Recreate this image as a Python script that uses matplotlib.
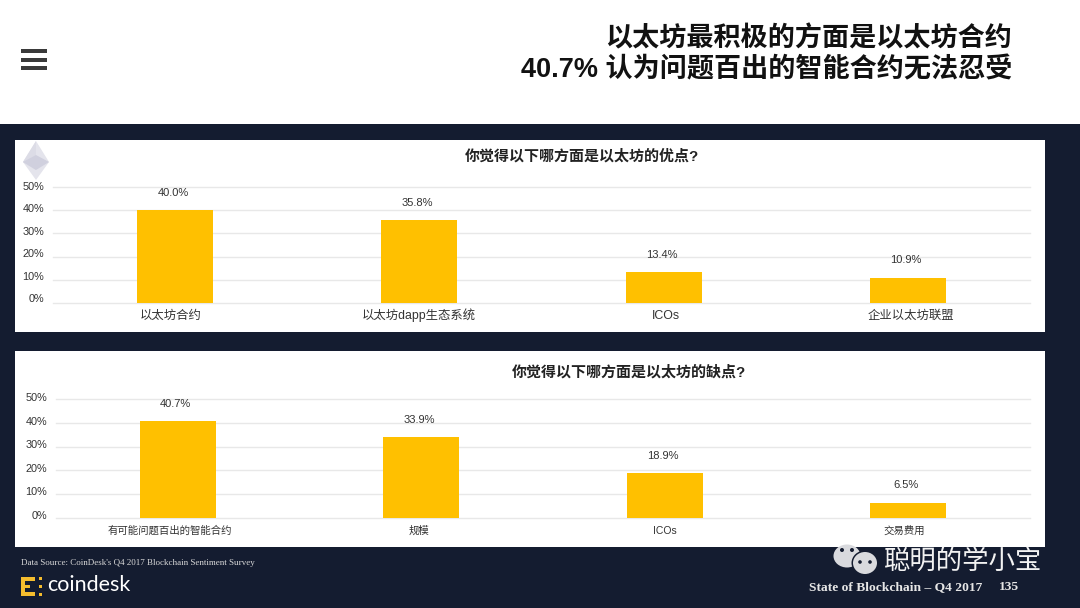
#!/usr/bin/env python3
"""Ethereum sentiment survey slide: two bar panels on a dark footer layout."""

import matplotlib
matplotlib.use("Agg")
import matplotlib.pyplot as plt
from matplotlib.patches import Circle, Ellipse, Polygon, Rectangle
from matplotlib.transforms import ScaledTranslation

W, H = 1080, 608
FONT = ["Liberation Sans", "Noto Sans CJK SC", "DejaVu Sans"]
plt.rcParams["font.family"] = FONT

TITLE_LINES = ["以太坊最积极的方面是以太坊合约", "40.7% 认为问题百出的智能合约无法忍受"]

PRO_TITLE = "你觉得以下哪方面是以太坊的优点?"
PRO_LABELS = ["以太坊合约", "以太坊dapp生态系统", "ICOs", "企业以太坊联盟"]
PRO_VALUES = [40.0, 35.8, 13.4, 10.9]

CON_TITLE = "你觉得以下哪方面是以太坊的缺点?"
CON_LABELS = ["有可能问题百出的智能合约", "规模", "ICOs", "交易费用"]
CON_VALUES = [40.7, 33.9, 18.9, 6.5]

Y_TICKS = [0, 10, 20, 30, 40, 50]

DARK = "#141c30"
BAR = "#ffc000"
GRID = "#e8e8e8"
TEXT = "#333333"


def px_axes(fig, left, top, right, bottom, **kwargs):
    return fig.add_axes(
        [left / W, 1 - bottom / H, (right - left) / W, (bottom - top) / H], **kwargs
    )


def draw_panel(fig, box, grid_y, tick_y, labels, values, title, title_x, title_y,
               label_size, label_shift, label_pad):
    left, right = box
    ax = px_axes(fig, left, grid_y[0], right, grid_y[1], zorder=2)
    ax.patch.set_alpha(0)
    ax.bar(range(len(values)), values, width=0.312, color=BAR, zorder=3)
    ax.set_xlim(-0.5, len(values) - 0.5)
    ax.set_ylim(0, 50)
    ax.set_yticks(Y_TICKS)
    ax.set_yticklabels([])
    ax.set_xticks(range(len(labels)))
    ax.set_xticklabels(labels, fontsize=label_size, color=TEXT)
    ax.tick_params(length=0, axis="both", pad=label_pad)
    # the slide's category labels are not quite centred under their bars
    for lab, dx in zip(ax.get_xticklabels(), label_shift):
        lab.set_va("baseline")
        lab.set_transform(lab.get_transform() + ScaledTranslation(dx / 100, 0, fig.dpi_scale_trans))
    ax.grid(True, axis="y", color=GRID, linewidth=1.0, clip_on=False)
    ax.set_axisbelow(True)
    for spine in ax.spines.values():
        spine.set_visible(False)
    for i, v in enumerate(values):
        ax.annotate(
            f"{v:.1f}%",
            (i, v),
            xytext=(-1.5, 12.5),
            textcoords="offset points",
            ha="center",
            va="center",
            fontsize=8,
            color=TEXT,
        )

    # the slide's axis labels sit on a slightly tighter scale than the gridlines
    tick_ax = px_axes(fig, left, tick_y[0], right, tick_y[1], zorder=2)
    tick_ax.patch.set_alpha(0)
    tick_ax.set_ylim(0, 50)
    tick_ax.set_yticks(Y_TICKS)
    tick_ax.set_yticklabels([f"{t}%" for t in Y_TICKS], fontsize=7.8, color=TEXT)
    tick_ax.tick_params(axis="y", length=0, pad=6.5)
    tick_ax.set_xticks([])
    for spine in tick_ax.spines.values():
        spine.set_visible(False)

    fig.text(
        title_x / W,
        1 - title_y / H,
        title,
        ha="center",
        va="center",
        fontsize=10.8,
        fontweight="bold",
        color="#222222",
    )


def draw_slide(bg):
    bg.add_patch(Rectangle((0, 124), W, H - 124, fc=DARK, lw=0, zorder=1))
    bg.add_patch(Rectangle((15, 140), 1030, 192, fc="white", lw=0, zorder=2))
    bg.add_patch(Rectangle((15, 351), 1030, 196, fc="white", lw=0, zorder=2))

    # menu icon
    for y in (51, 59.5, 68):
        bg.add_patch(Rectangle((21, y - 2), 26, 4.4, fc="#3a3a3a", lw=0, zorder=2))

    for y, line in zip((39, 70), TITLE_LINES):
        bg.text(1012, y, line, ha="right", va="center", fontsize=19.5,
                fontweight="bold", color="#111111", zorder=3)

    # ether logo
    bg.add_patch(Polygon([(36, 141), (49, 162), (36, 180), (23, 162)], fc="#e4e4ec", lw=0, zorder=3))
    bg.add_patch(Polygon([(36, 141), (36, 170), (23, 162)], fc="#dcdce6", lw=0, zorder=3))
    bg.add_patch(Polygon([(36, 155), (49, 162), (36, 170), (23, 162)], fc="#d0d0de", lw=0, zorder=3))

    # footer
    bg.text(21, 563, "Data Source: CoinDesk's Q4 2017 Blockchain Sentiment Survey",
            family="Liberation Serif", fontsize=6.5, color="#d8d8d8", va="center", zorder=3)
    for x, y, w, h in [(21, 577, 4, 19), (21, 577, 14, 4), (21, 592, 14, 4),
                       (21, 585, 9, 3), (39, 577, 3, 3), (39, 585, 3, 3), (39, 593, 3, 3)]:
        bg.add_patch(Rectangle((x, y), w, h, fc="#f5bd2e", lw=0, zorder=3))
    bg.text(47, 585, "coindesk", family="Lato", fontsize=15.5, color="white", va="center", zorder=3)

    bg.text(809, 587, "State of Blockchain – Q4 2017", family="Liberation Serif",
            fontsize=9.7, fontweight="bold", color="#e6e6e6", va="center", zorder=3)
    bg.text(999, 587, "135", family="Liberation Serif", fontsize=9.7,
            fontweight="bold", color="#e6e6e6", va="center", zorder=3)

    # watermark
    bg.add_patch(Ellipse((847, 556), 27, 23, fc="#d9dade", lw=0, zorder=4))
    bg.add_patch(Ellipse((865, 563), 27, 25, fc=DARK, lw=0, zorder=4))
    bg.add_patch(Ellipse((865, 563), 24, 22, fc="#d9dade", lw=0, zorder=4))
    for x, y, r in [(842, 550, 2), (852, 550, 2), (860, 562, 1.8), (870, 562, 1.8)]:
        bg.add_patch(Circle((x, y), r, fc=DARK, lw=0, zorder=5))
    bg.text(883, 561, "聪明的学小宝", family="Noto Sans CJK SC", fontsize=19,
            color="#f2f2f2", va="center", zorder=5)


def main():
    fig = plt.figure(figsize=(W / 100, H / 100), dpi=100)
    base = fig.add_axes([0, 0, 1, 1], zorder=0)
    base.set_xlim(0, W)
    base.set_ylim(H, 0)
    base.axis("off")
    draw_slide(base)
    draw_panel(fig, (53, 1030), (187, 303), (186, 298), PRO_LABELS, PRO_VALUES,
               PRO_TITLE, 582, 156, 8.9, (-4, -1, 2, 3), 11.5)
    draw_panel(fig, (56, 1030), (399, 518), (397, 515), CON_LABELS, CON_VALUES,
               CON_TITLE, 629, 372, 7.5, (-8, -2, 0, -4), 11.5)
    fig.savefig("out.png", dpi=100)
    plt.close(fig)


if __name__ == "__main__":
    main()
